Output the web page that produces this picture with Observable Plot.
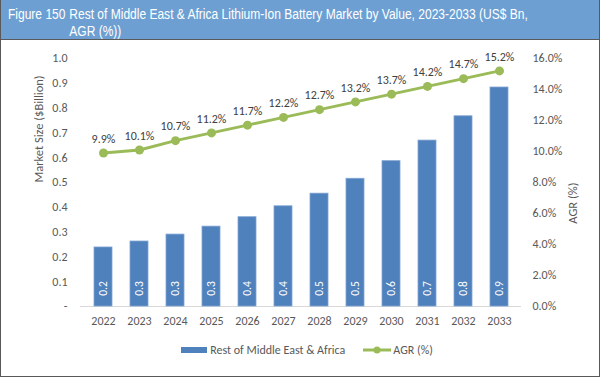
<!DOCTYPE html>
<html>
<head>
<meta charset="utf-8">
<script src="https://cdn.jsdelivr.net/npm/d3@7"></script>
<script src="https://cdn.jsdelivr.net/npm/@observablehq/plot@0.6"></script>
<style>
  html, body { margin: 0; padding: 0; background: #fff; }
  #frame { position: relative; width: 600px; height: 377px; box-sizing: border-box; border: 1px solid #595959; border-top: none; background: #fff; overflow: hidden; }
  #title { height: 40px; box-sizing: border-box; background: #6d9fd3; border-bottom: 1px solid #5a5a5a; color: #fff; position: relative; }
  #title .inner { position: absolute; left: 7px; top: 5px; transform: scaleX(0.775); transform-origin: 0 0; white-space: nowrap; display: flex;
    font-family: "Liberation Sans", Arial, sans-serif; font-size: 15.5px; line-height: 17px; }
  #title .num { margin-right: 5px; }
  #legend { position: absolute; left: 0; top: 337px; width: 598px; height: 26px; display: flex; align-items: center; justify-content: center;
    font-family: Carlito, Calibri, Lato, sans-serif; font-size: 12px; color: #595959; padding-left: 14px; box-sizing: border-box; }
  #legend .item { display: flex; align-items: center; }
  #legend .sw { width: 26px; height: 6px; background: #4f81bd; margin-right: 3px; }
  #legend svg { margin-right: 2px; }
  svg.plot { display: block; }
</style>
</head>
<body>
<div id="frame">
  <div id="title"><div class="inner"><span class="num">Figure 150</span><span>Rest of Middle East &amp; Africa Lithium-Ion Battery Market by Value, 2023-2033 (US$ Bn,<br>AGR (%))</span></div></div>
  <div id="chart"></div>
  <div id="legend">
    <div class="item"><div class="sw"></div><span>Rest of Middle East &amp; Africa</span></div>
    <div class="item" style="margin-left:18px"><svg width="28" height="10"><line x1="0" y1="5" x2="28" y2="5" stroke="#9bbb59" stroke-width="3"/><circle cx="14" cy="5" r="3.5" fill="#9bbb59"/></svg><span>AGR (%)</span></div>
  </div>
</div>
<script>
const years = ["2022","2023","2024","2025","2026","2027","2028","2029","2030","2031","2032","2033"];
const marketValues = [0.238,0.262,0.29,0.322,0.36,0.404,0.455,0.515,0.586,0.669,0.767,0.883];
const agrValues = [9.9,10.1,10.7,11.2,11.7,12.2,12.7,13.2,13.7,14.2,14.7,15.2];
const leftTicks = [0,0.1,0.2,0.3,0.4,0.5,0.6,0.7,0.8,0.9,1.0];
const rightTicks = [0,2,4,6,8,10,12,14,16];
const agrMax = 16;

const data = years.map((y, i) => ({year: y, value: marketValues[i], agr: agrValues[i]}));
const font = "Carlito, Calibri, Lato, sans-serif";

const plot = Plot.plot({
  width: 598,
  height: 293,
  marginLeft: 79,
  marginRight: 78,
  marginTop: 18,
  marginBottom: 27,
  style: {fontFamily: font, fontSize: "12px", color: "#595959", background: "#fff"},
  x: {domain: years, paddingInner: 0.5, paddingOuter: 0.25, label: null},
  y: {domain: [0, 1], label: null},
  marks: [
    Plot.ruleY([0], {stroke: "#d9d9d9"}),
    Plot.barY(data, {x: "year", y: "value", fill: "#4f81bd", stroke: "#7fa3d3", strokeWidth: 0.8}),
    Plot.text(data, {x: "year", y: d => 0, text: d => d3.format(".1f")(d.value), rotate: -90, dy: -18, fill: "#fff", fontSize: 11.5}),
    Plot.line(data, {x: "year", y: d => d.agr / agrMax, stroke: "#9bbb59", strokeWidth: 3}),
    Plot.dot(data, {x: "year", y: d => d.agr / agrMax, r: 4.5, fill: "#9bbb59"}),
    Plot.text(data, {x: "year", y: d => d.agr / agrMax, text: d => d.agr.toFixed(1) + "%", dy: -14, fill: "#404040", fontSize: 12}),
    Plot.axisX({tickSize: 0, tickPadding: 10, label: null, fontSize: 12}),
    Plot.axisY({anchor: "left", ticks: leftTicks, tickSize: 0, tickPadding: 13, label: null,
      tickFormat: d => d === 0 ? "-" : d3.format(".1f")(d)}),
    Plot.axisY({anchor: "right", ticks: rightTicks.map(t => t / agrMax), tickSize: 0, tickPadding: 11, label: null,
      tickFormat: d => (d * agrMax).toFixed(1) + "%"}),
    Plot.text(["Market Size ($Billion)"], {frameAnchor: "left", text: d => d, rotate: -90, dx: -42, fill: "#595959", fontSize: 12.5}),
    Plot.text(["AGR (%)"], {frameAnchor: "right", text: d => d, rotate: -90, dx: 51, fill: "#595959", fontSize: 12.5})
  ]
});
document.getElementById("chart").appendChild(plot);
</script>
</body>
</html>
